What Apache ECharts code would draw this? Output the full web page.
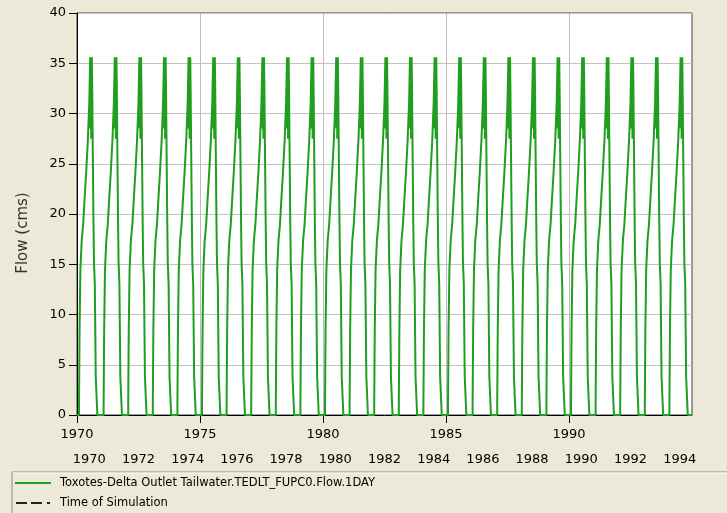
<!DOCTYPE html>
<html><head><meta charset="utf-8">
<script src="https://cdn.jsdelivr.net/npm/echarts@6/dist/echarts.min.js"></script>
<style>html,body{margin:0;padding:0;background:#ECE9D8;}#c{width:727px;height:513px;}</style>
</head><body><div id="c"></div>
<script>
// ---- data ----
const years = [1970,1971,1972,1973,1974,1975,1976,1977,1978,1979,1980,1981,1982,
               1983,1984,1985,1986,1987,1988,1989,1990,1991,1992,1993,1994];
// seasonal hydrograph (day of year -> flow, cms), repeated each year
const cycleDay  = [0, 30, 38, 50, 70, 92, 112, 135, 160, 182, 196, 199, 202, 205, 208, 211, 214, 217, 220, 226, 236, 244, 252, 264, 278, 302];
const cycleFlow = [0, 1.2, 8.5, 14.4, 17.4, 19.0, 21.4, 24.0, 27.2, 31.0, 35.6, 28.5, 35.6, 30.0, 35.6, 27.5, 35.6, 31.0, 35.6, 32.3, 25.0, 19.4, 15.1, 13.1, 3.8, 0];
const majorYears = [1970, 1975, 1980, 1985, 1990];
const yearRowLabels = years.map(String);
const simulationTime = [];
const seriesNames = ['Toxotes-Delta Outlet Tailwater.TEDLT_FUPC0.Flow.1DAY', 'Time of Simulation'];

const flowData = [];
years.forEach(function (y) {
  cycleDay.forEach(function (d, i) { flowData.push([y + d / 365, cycleFlow[i]]); });
});
flowData.push([1995, 0]);

const FONT = 'DejaVu Sans';
const GREEN = '#1f9e1f';
const chart = echarts.init(document.getElementById('c'), null, {renderer: 'canvas'});
chart.setOption({
  backgroundColor: '#ECE9D8',
  animation: false,
  grid: {left: 77, right: 35, top: 13, bottom: 98, show: true, backgroundColor: '#ffffff', borderColor: '#404040', borderWidth: 1},
  xAxis: [{
    type: 'value', min: 1970, max: 1995, interval: 5,
    axisLine: {lineStyle: {color: '#000'}},
    axisTick: {length: 8, lineStyle: {color: '#000'}, customValues: majorYears},
    axisLabel: {color: '#000', fontSize: 13, fontFamily: FONT, margin: 13, customValues: majorYears,
      formatter: function (v) { return String(v); }},
    splitLine: {show: true, lineStyle: {color: '#bdbdbd', width: 1}}
  }, {
    type: 'category', data: yearRowLabels, position: 'bottom', offset: 25, boundaryGap: true,
    axisLine: {show: false}, axisTick: {show: false}, splitLine: {show: false},
    axisLabel: {interval: 1, color: '#000', fontSize: 13, fontFamily: FONT, margin: 13}
  }],
  yAxis: {
    type: 'value', min: 0, max: 40, interval: 5,
    name: 'Flow (cms)', nameLocation: 'middle', nameGap: 46,
    nameTextStyle: {color: '#333', fontSize: 15, fontFamily: FONT, padding: [0, 38, 0, 0]},
    axisLine: {show: true, lineStyle: {color: '#000'}},
    axisTick: {show: true, length: 8, lineStyle: {color: '#000'}},
    axisLabel: {color: '#000', fontSize: 13, fontFamily: FONT, margin: 11},
    splitLine: {show: true, lineStyle: {color: '#c4c4c4', width: 1}}
  },
  legend: {
    orient: 'vertical', left: 15, top: 475, padding: 0, itemWidth: 36, itemHeight: 2, itemGap: 4,
    textStyle: {color: '#000', fontSize: 11.5, lineHeight: 16, fontFamily: FONT, padding: [0, 0, 0, 4]},
    data: [
      {name: seriesNames[0], icon: 'path://M0,0h36v2h-36z', itemStyle: {color: GREEN}},
      {name: seriesNames[1], icon: 'path://M0,0h11v2h-11z M15,0h11v2h-11z M31,0h3v2h-3z', itemStyle: {color: '#222'}}
    ]
  },
  graphic: [
    {type: 'line', shape: {x1: 12, y1: 472, x2: 727, y2: 472}, style: {stroke: '#8c8c8c', lineWidth: 1}, silent: true},
    {type: 'line', shape: {x1: 12, y1: 473, x2: 727, y2: 473}, style: {stroke: '#ffffff', lineWidth: 1}, silent: true},
    {type: 'line', shape: {x1: 12, y1: 472, x2: 12, y2: 513}, style: {stroke: '#8c8c8c', lineWidth: 1}, silent: true}
  ],
  series: [{
    name: seriesNames[0], type: 'line', step: 'end', symbol: 'none', data: flowData,
    xAxisIndex: 0, clip: true,
    lineStyle: {color: GREEN, width: 2}, itemStyle: {color: GREEN}
  }, {
    name: seriesNames[1], type: 'line', symbol: 'none', data: simulationTime, xAxisIndex: 0,
    lineStyle: {color: '#000', width: 1, type: [9, 5, 9, 5, 1, 5]}, itemStyle: {color: '#000'}
  }]
});
</script></body></html>
